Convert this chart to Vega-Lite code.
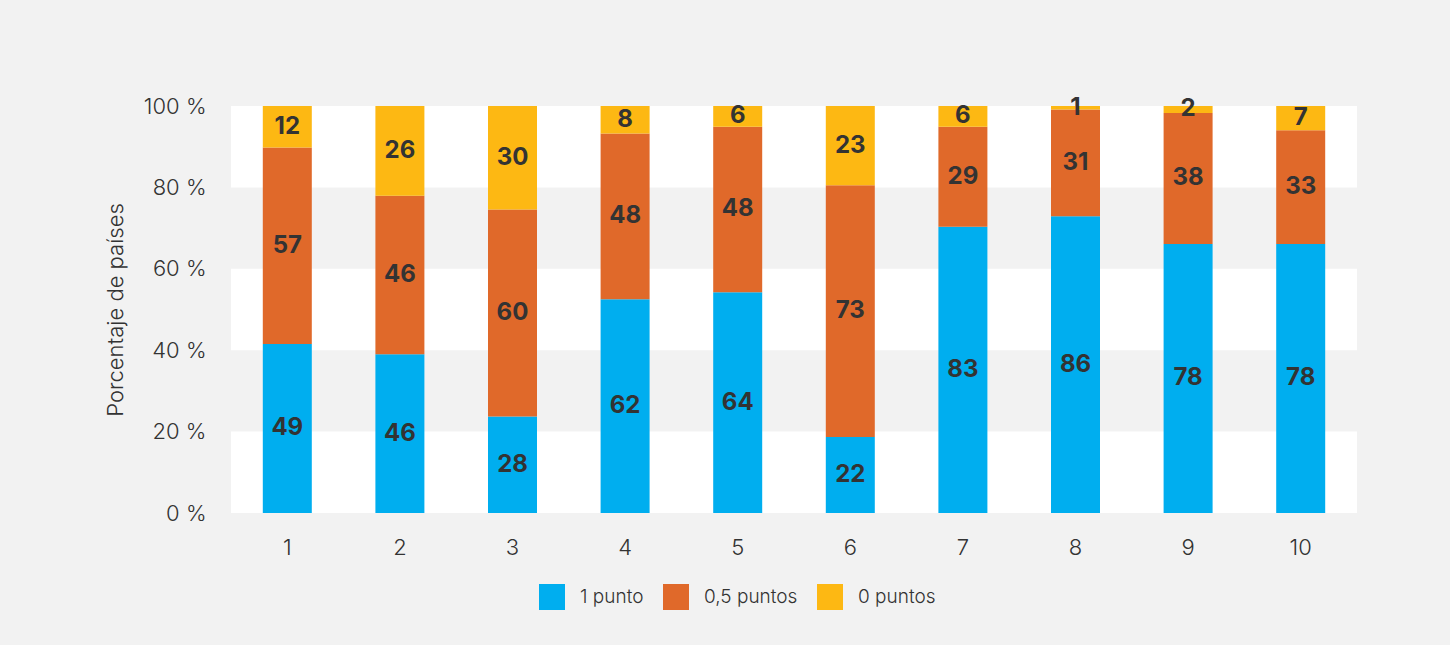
{
  "$schema": "https://vega.github.io/schema/vega-lite/v6.json",
  "width": 1126,
  "height": 407,
  "autosize": {"type": "none"},
  "padding": {"left": 231, "top": 106, "right": 93, "bottom": 132},
  "background": "#f2f2f2",
  "config": {
    "view": {"stroke": null, "fill": null},
    "font": "Inter",
    "axis": {"domain": false, "ticks": false, "grid": false, "labelColor": "#333333", "titleColor": "#333333"}
  },
  "datasets": {
    "bands": [{"lo": 0, "hi": 0.2}, {"lo": 0.4, "hi": 0.6}, {"lo": 0.8, "hi": 1}],
    "main": [
      {"pregunta": 1, "categoria": "1 punto", "valor": 49},
      {"pregunta": 1, "categoria": "0,5 puntos", "valor": 57},
      {"pregunta": 1, "categoria": "0 puntos", "valor": 12},
      {"pregunta": 2, "categoria": "1 punto", "valor": 46},
      {"pregunta": 2, "categoria": "0,5 puntos", "valor": 46},
      {"pregunta": 2, "categoria": "0 puntos", "valor": 26},
      {"pregunta": 3, "categoria": "1 punto", "valor": 28},
      {"pregunta": 3, "categoria": "0,5 puntos", "valor": 60},
      {"pregunta": 3, "categoria": "0 puntos", "valor": 30},
      {"pregunta": 4, "categoria": "1 punto", "valor": 62},
      {"pregunta": 4, "categoria": "0,5 puntos", "valor": 48},
      {"pregunta": 4, "categoria": "0 puntos", "valor": 8},
      {"pregunta": 5, "categoria": "1 punto", "valor": 64},
      {"pregunta": 5, "categoria": "0,5 puntos", "valor": 48},
      {"pregunta": 5, "categoria": "0 puntos", "valor": 6},
      {"pregunta": 6, "categoria": "1 punto", "valor": 22},
      {"pregunta": 6, "categoria": "0,5 puntos", "valor": 73},
      {"pregunta": 6, "categoria": "0 puntos", "valor": 23},
      {"pregunta": 7, "categoria": "1 punto", "valor": 83},
      {"pregunta": 7, "categoria": "0,5 puntos", "valor": 29},
      {"pregunta": 7, "categoria": "0 puntos", "valor": 6},
      {"pregunta": 8, "categoria": "1 punto", "valor": 86},
      {"pregunta": 8, "categoria": "0,5 puntos", "valor": 31},
      {"pregunta": 8, "categoria": "0 puntos", "valor": 1},
      {"pregunta": 9, "categoria": "1 punto", "valor": 78},
      {"pregunta": 9, "categoria": "0,5 puntos", "valor": 38},
      {"pregunta": 9, "categoria": "0 puntos", "valor": 2},
      {"pregunta": 10, "categoria": "1 punto", "valor": 78},
      {"pregunta": 10, "categoria": "0,5 puntos", "valor": 33},
      {"pregunta": 10, "categoria": "0 puntos", "valor": 7}
    ]
  },
  "layer": [
    {
      "data": {"name": "bands"},
      "mark": {"type": "rect", "fill": "#ffffff"},
      "encoding": {
        "y": {
          "field": "lo",
          "type": "quantitative",
          "scale": {"domain": [0, 1]},
          "axis": {
            "values": [0, 0.2, 0.4, 0.6, 0.8, 1],
            "labelExpr": "format(datum.value*100,'d') + ' %'",
            "labelFontSize": 22,
            "labelFontWeight": 300,
            "labelPadding": 25,
            "title": "Porcentaje de países",
            "titleFontSize": 22,
            "titleFontWeight": 300,
            "titlePadding": 16
          }
        },
        "y2": {"field": "hi"}
      }
    },
    {
      "data": {"name": "main"},
      "transform": [
        {"stack": "valor", "groupby": ["pregunta"], "sort": [{"field": "categoria", "order": "descending"}], "offset": "normalize", "as": ["y0", "y1"]},
        {"calculate": "(datum.y0 + datum.y1) / 2", "as": "ymid"}
      ],
      "layer": [
        {
          "mark": {"type": "bar", "width": 49},
          "encoding": {
            "x": {"field": "pregunta", "type": "ordinal", "axis": {"labelAngle": 0, "labelFontSize": 22, "labelFontWeight": 300, "labelPadding": 24, "title": null}},
            "y": {"field": "y1", "type": "quantitative"},
            "y2": {"field": "y0"},
            "color": {
              "field": "categoria",
              "type": "nominal",
              "scale": {"domain": ["1 punto", "0,5 puntos", "0 puntos"], "range": ["#00aeef", "#e0692a", "#fdb813"]},
              "legend": {
                "orient": "none",
                "legendX": 308,
                "legendY": 478,
                "direction": "horizontal",
                "title": null,
                "symbolType": "square",
                "symbolSize": 676,
                "symbolStrokeWidth": 0,
                "labelFontSize": 19,
                "labelFontWeight": 300,
                "labelColor": "#333333",
                "labelOffset": 15,
                "columnPadding": 19
              }
            }
          }
        },
        {
          "mark": {"type": "text", "fontSize": 24, "fontWeight": "bold", "color": "#333333", "baseline": "middle"},
          "encoding": {
            "x": {"field": "pregunta", "type": "ordinal"},
            "y": {"field": "ymid", "type": "quantitative"},
            "text": {"field": "valor", "type": "quantitative"}
          }
        }
      ]
    }
  ]
}
